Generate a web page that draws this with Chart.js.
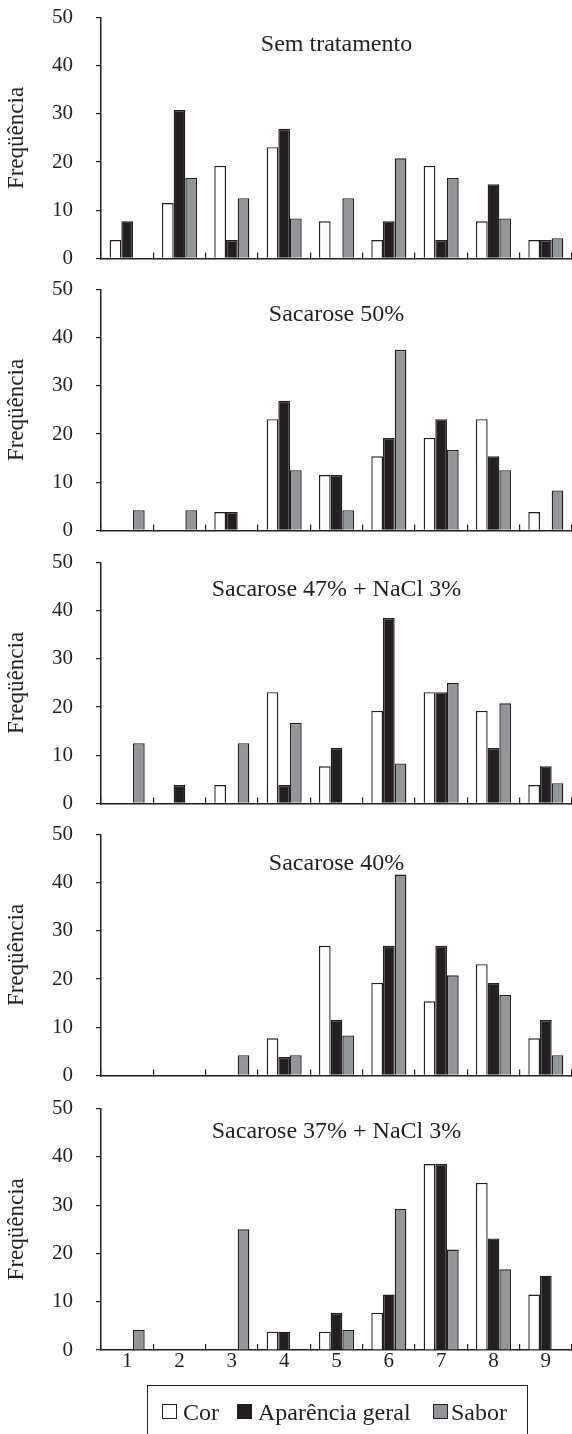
<!DOCTYPE html>
<html>
<head>
<meta charset="utf-8">
<script src="https://cdn.jsdelivr.net/npm/chart.js@4.4.1/dist/chart.umd.min.js"></script>
<style>
html,body{margin:0;padding:0;background:#fff;}
body{width:572px;height:1434px;position:relative;overflow:hidden;font-family:"Liberation Serif","Times New Roman",serif;color:#231f20;}
.panel{position:absolute;left:0;width:572px;}
.panel canvas{display:block;}
.ptitle{position:absolute;left:101px;width:471px;text-align:center;font-size:24px;line-height:24px;white-space:nowrap;z-index:5;}
#legend{position:absolute;left:147px;top:1385px;width:381px;height:70px;border:1.2px solid #231f20;box-sizing:border-box;z-index:5;}
.sw{position:absolute;width:15px;height:15px;border:1px solid #231f20;box-sizing:border-box;top:1404px;z-index:6;}
.lt{position:absolute;top:1400px;font-size:24px;line-height:24px;white-space:nowrap;z-index:6;}
</style>
</head>
<body>
<div id="legend"></div>
<script>
// ---- data ----
const categories = ['1','2','3','4','5','6','7','8','9'];
const panelTitles = ['Sem tratamento','Sacarose 50%','Sacarose 47% + NaCl 3%','Sacarose 40%','Sacarose 37% + NaCl 3%'];
const seriesNames = ['Cor','Aparência geral','Sabor'];
const yTicks = [0,10,20,30,40,50];
const yAxisTitle = 'Freqüência';

const semTratamentoCor       = [3.8,11.5,19.2,23.1,7.7,3.8,19.2,7.7,3.8];
const semTratamentoAparencia = [7.7,30.8,3.8,26.9,0,7.7,3.8,15.4,3.8];
const semTratamentoSabor     = [0,16.7,12.5,8.3,12.5,20.8,16.7,8.3,4.2];

const sac50Cor       = [0,0,3.8,23.1,11.5,15.4,19.2,23.1,3.8];
const sac50Aparencia = [0,0,3.8,26.9,11.5,19.2,23.1,15.4,0];
const sac50Sabor     = [4.2,4.2,0,12.5,4.2,37.5,16.7,12.5,8.3];

const sac47NaClCor       = [0,0,3.8,23.1,7.7,19.2,23.1,19.2,3.8];
const sac47NaClAparencia = [0,3.8,0,3.8,11.5,38.5,23.1,11.5,7.7];
const sac47NaClSabor     = [12.5,0,12.5,16.7,0,8.3,25.0,20.8,4.2];

const sac40Cor       = [0,0,0,7.7,26.9,19.2,15.4,23.1,7.7];
const sac40Aparencia = [0,0,0,3.8,11.5,26.9,26.9,19.2,11.5];
const sac40Sabor     = [0,0,4.2,4.2,8.3,41.7,20.8,16.7,4.2];

const sac37NaClCor       = [0,0,0,3.8,3.8,7.7,38.5,34.6,11.5];
const sac37NaClAparencia = [0,0,0,3.8,7.7,11.5,38.5,23.1,15.4];
const sac37NaClSabor     = [4.2,0,25.0,0,4.2,29.2,20.8,16.7,0];

const panels = [
  [semTratamentoCor, semTratamentoAparencia, semTratamentoSabor],
  [sac50Cor, sac50Aparencia, sac50Sabor],
  [sac47NaClCor, sac47NaClAparencia, sac47NaClSabor],
  [sac40Cor, sac40Aparencia, sac40Sabor],
  [sac37NaClCor, sac37NaClAparencia, sac37NaClSabor]
];

// ---- layout / styles ----
const INK = '#231f20';
const fills = ['#ffffff', '#231f20', '#939598'];
const FONT = '"Liberation Serif", "Times New Roman", serif';
const plotTops = [17.5, 290, 562.5, 835, 1108.5];
const plotHeight = 241;
const titleCenters = [43, 313, 588, 862, 1130];

panels.forEach((series, i) => {
  const isLast = i === panels.length - 1;
  const h0 = isLast ? 320 : 280;
  const div = document.createElement('div');
  div.className = 'panel';
  const cv = document.createElement('canvas');
  cv.width = 572; cv.height = h0;
  div.appendChild(cv);
  document.body.appendChild(div);

  const t = document.createElement('div');
  t.className = 'ptitle';
  t.textContent = panelTitles[i];
  t.style.top = (titleCenters[i] - 12) + 'px';
  document.body.appendChild(t);

  const chart = new Chart(cv.getContext('2d'), {
    type: 'bar',
    data: {
      labels: categories,
      datasets: series.map((vals, k) => ({
        label: seriesNames[k],
        data: vals,
        backgroundColor: fills[k],
        borderColor: INK,
        borderWidth: 1.4,
        categoryPercentage: 0.67,
        barPercentage: 1.0
      }))
    },
    options: {
      responsive: false,
      maintainAspectRatio: false,
      animation: false,
      devicePixelRatio: 1,
      layout: { padding: 0 },
      plugins: { legend: { display: false }, tooltip: { enabled: false }, title: { display: false } },
      scales: {
        x: {
          type: 'category',
          offset: true,
          grid: { display: true, offset: true, drawOnChartArea: false, drawTicks: true, tickLength: -6, color: INK, lineWidth: 1.2 },
          border: { display: true, color: INK, width: 1.5 },
          ticks: { display: isLast, color: INK, font: { family: FONT, size: 21 }, padding: 5, maxRotation: 0, autoSkip: false },
          afterFit: s => { s.height = isLast ? 40 : 2; }
        },
        y: {
          min: 0, max: 50,
          afterBuildTicks: s => { s.ticks = yTicks.map(v => ({ value: v })); },
          ticks: { color: INK, font: { family: FONT, size: 21 }, padding: 23 },
          grid: { drawOnChartArea: false, drawTicks: true, tickLength: 5, color: INK, lineWidth: 1.2 },
          border: { display: true, color: INK, width: 1.5 },
          title: { display: true, text: yAxisTitle, color: INK, font: { family: FONT, size: 23 }, padding: { top: 3, bottom: 0 } },
          afterFit: s => { s.width = 101; }
        }
      }
    }
  });

  // fit the plot area to the reference height, then place the canvas so the plot lands in place
  let ca = chart.chartArea;
  const newH = Math.round(h0 + (plotHeight - (ca.bottom - ca.top)));
  chart.resize(572, newH);
  ca = chart.chartArea;
  div.style.top = (plotTops[i] - ca.top) + 'px';
});

// ---- legend (HTML) ----
const legendPos = [[162, 183], [237, 258], [433, 451]];
seriesNames.forEach((name, k) => {
  const sw = document.createElement('div');
  sw.className = 'sw';
  sw.style.left = legendPos[k][0] + 'px';
  sw.style.background = fills[k];
  document.body.appendChild(sw);
  const lt = document.createElement('div');
  lt.className = 'lt';
  lt.style.left = legendPos[k][1] + 'px';
  lt.textContent = name;
  document.body.appendChild(lt);
});
</script>
</body>
</html>
